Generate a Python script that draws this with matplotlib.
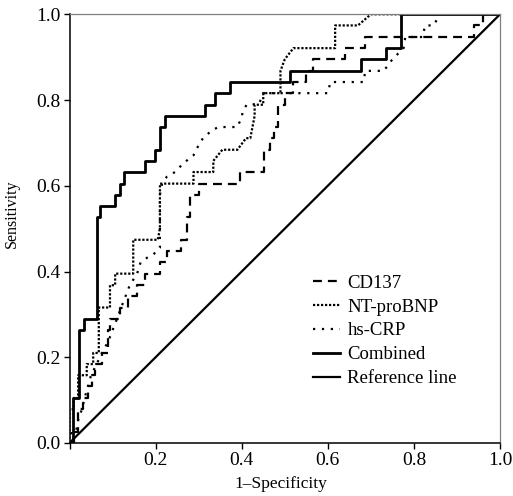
import matplotlib
matplotlib.use("Agg")
import matplotlib.pyplot as plt

plt.rcParams['font.family'] = ['Liberation Serif', 'DejaVu Serif']

# ROC curves as (1-specificity, sensitivity) vertices
cd137 = [(0, 0), (0.01, 0), (0.01, 0.026), (0.02, 0.026), (0.02, 0.079), (0.031, 0.079),
         (0.031, 0.105), (0.043, 0.105), (0.043, 0.132), (0.052, 0.132), (0.052, 0.158),
         (0.06, 0.158), (0.06, 0.184), (0.076, 0.184), (0.076, 0.21), (0.09, 0.21),
         (0.09, 0.263), (0.094, 0.263), (0.094, 0.289), (0.117, 0.289), (0.117, 0.316),
         (0.136, 0.316), (0.136, 0.342), (0.157, 0.342), (0.157, 0.368), (0.175, 0.368),
         (0.175, 0.395), (0.21, 0.395), (0.21, 0.421), (0.226, 0.421), (0.226, 0.447),
         (0.26, 0.447), (0.26, 0.474), (0.273, 0.474), (0.273, 0.526), (0.28, 0.526),
         (0.28, 0.579), (0.30, 0.579), (0.30, 0.605), (0.397, 0.605), (0.397, 0.632),
         (0.452, 0.632), (0.452, 0.684), (0.466, 0.684), (0.466, 0.711), (0.474, 0.711),
         (0.474, 0.737), (0.485, 0.737), (0.485, 0.789), (0.50, 0.789), (0.50, 0.816),
         (0.52, 0.816), (0.52, 0.842), (0.55, 0.842), (0.55, 0.868), (0.566, 0.868),
         (0.566, 0.895), (0.641, 0.895), (0.641, 0.921), (0.687, 0.921), (0.687, 0.947),
         (0.94, 0.947), (0.94, 0.974), (0.96, 0.974), (0.96, 1.0), (1.0, 1.0)]

nt_probnp = [(0, 0), (0, 0.079), (0.01, 0.079), (0.01, 0.105), (0.02, 0.105), (0.02, 0.158),
             (0.04, 0.158), (0.04, 0.184), (0.055, 0.184), (0.055, 0.21), (0.068, 0.21),
             (0.068, 0.316), (0.094, 0.316), (0.094, 0.368), (0.106, 0.368), (0.106, 0.395),
             (0.148, 0.395), (0.148, 0.474), (0.205, 0.474), (0.21, 0.5), (0.21, 0.605),
             (0.288, 0.605), (0.288, 0.632), (0.334, 0.632), (0.334, 0.658), (0.355, 0.684),
             (0.39, 0.684), (0.41, 0.711), (0.42, 0.711), (0.43, 0.763), (0.43, 0.789),
             (0.45, 0.789), (0.45, 0.816), (0.49, 0.816), (0.49, 0.868), (0.50, 0.895),
             (0.52, 0.921), (0.617, 0.921), (0.617, 0.974), (0.67, 0.974), (0.70, 1.0),
             (1.0, 1.0)]

hs_crp = [(0, 0), (0.005, 0.026), (0.015, 0.026), (0.02, 0.053), (0.029, 0.079), (0.035, 0.105),
          (0.043, 0.132), (0.05, 0.158), (0.063, 0.184), (0.075, 0.21), (0.09, 0.237),
          (0.1, 0.263), (0.11, 0.289), (0.12, 0.316), (0.13, 0.342), (0.14, 0.368),
          (0.157, 0.395), (0.165, 0.421), (0.18, 0.432), (0.195, 0.44), (0.21, 0.455),
          (0.21, 0.579), (0.215, 0.605), (0.226, 0.621), (0.245, 0.632), (0.265, 0.653),
          (0.288, 0.671), (0.3, 0.695), (0.31, 0.711), (0.327, 0.726), (0.345, 0.737),
          (0.39, 0.737), (0.397, 0.753), (0.404, 0.776), (0.412, 0.79), (0.44, 0.79),
          (0.45, 0.816), (0.60, 0.816), (0.606, 0.842), (0.683, 0.842), (0.687, 0.868),
          (0.73, 0.868), (0.75, 0.895), (0.776, 0.921), (0.78, 0.947), (0.82, 0.947),
          (0.826, 0.974), (0.846, 0.974), (0.86, 1.0), (1.0, 1.0)]

combined = [(0, 0), (0.007, 0), (0.007, 0.105), (0.022, 0.105), (0.022, 0.263), (0.034, 0.263),
            (0.034, 0.289), (0.063, 0.289), (0.063, 0.526), (0.071, 0.526), (0.071, 0.553),
            (0.106, 0.553), (0.106, 0.579), (0.117, 0.579), (0.117, 0.605), (0.127, 0.605),
            (0.127, 0.632), (0.176, 0.632), (0.176, 0.658), (0.199, 0.658), (0.199, 0.684),
            (0.21, 0.684), (0.21, 0.737), (0.222, 0.737), (0.222, 0.763), (0.315, 0.763),
            (0.315, 0.789), (0.337, 0.789), (0.337, 0.816), (0.373, 0.816), (0.373, 0.842),
            (0.511, 0.842), (0.511, 0.868), (0.676, 0.868), (0.676, 0.895), (0.734, 0.895),
            (0.734, 0.921), (0.769, 0.921), (0.769, 1.0), (1.0, 1.0)]

reference = [(0, 0), (1, 1)]

x_ticks = [0.0, 0.2, 0.4, 0.6, 0.8, 1.0]
x_tick_labels = ["", "0.2", "0.4", "0.6", "0.8", "1.0"]
y_ticks = [0.0, 0.2, 0.4, 0.6, 0.8, 1.0]
y_tick_labels = ["0.0", "0.2", "0.4", "0.6", "0.8", "1.0"]

fig = plt.figure(figsize=(5.13, 4.96), dpi=100)
ax = fig.add_axes([0.1355, 0.1069, 0.8392, 0.8643])


def xy(points):
    return [p[0] for p in points], [p[1] for p in points]


ax.plot(*xy(cd137), color="black", lw=1.6, linestyle=(0, (4, 2.7)), label="CD137")
ax.plot(*xy(nt_probnp), color="black", lw=1.6, linestyle=(0, (1, 0.8)), label="NT-proBNP")
ax.plot(*xy(hs_crp), color="black", lw=1.6, linestyle=(0, (1, 3)), label="hs-CRP")
ax.plot(*xy(combined), color="black", lw=2.0, label="Combined")
ax.plot(*xy(reference), color="black", lw=1.6, label="Reference line")

ax.set_xlim(0, 1)
ax.set_ylim(0, 1)
ax.set_xticks(x_ticks)
ax.set_xticklabels(x_tick_labels, fontsize=14)
ax.set_yticks(y_ticks)
ax.set_yticklabels(y_tick_labels, fontsize=14)
ax.tick_params(direction="out", length=4.5, width=1.0, pad=2)

for side in ["left", "bottom"]:
    ax.spines[side].set_linewidth(1.1)
for side in ["top", "right"]:
    ax.spines[side].set_color("#808080")
    ax.spines[side].set_linewidth(0.9)

ax.set_xlabel("1–Specificity", fontsize=12.5)
ax.xaxis.set_label_coords(0.492, -0.077)
ax.set_ylabel("Sensitivity", fontsize=11.5)
ax.yaxis.set_label_coords(-0.115, 0.534)

ax.legend(loc="upper left", bbox_to_anchor=(0.566, 0.393), frameon=False, fontsize=13.5,
          handlelength=1.45, handletextpad=0.38, labelspacing=0.36, borderpad=0,
          borderaxespad=0)

fig.savefig("out.png", dpi=100)
